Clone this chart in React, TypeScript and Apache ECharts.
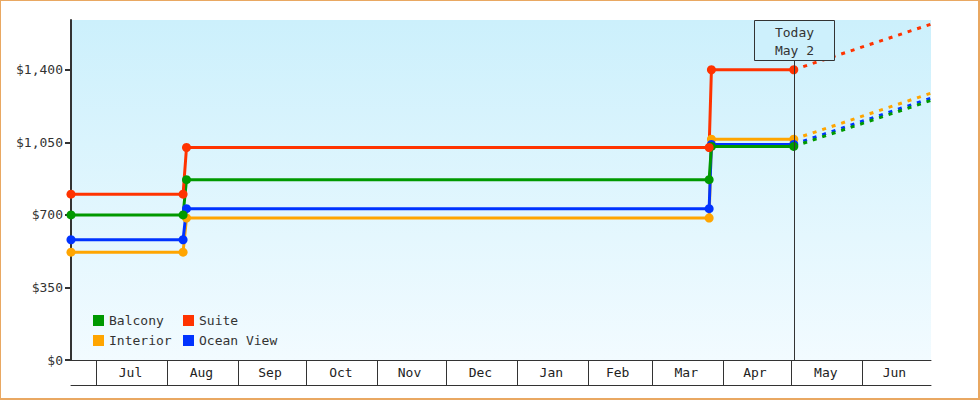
import React, { useEffect, useRef } from 'react';
import * as echarts from 'echarts';

const FONT = '"DejaVu Sans Mono", monospace';

// dates where the fares change (old value / new value) up to today
const stepDates = [
  '2024-06-20',
  '2024-08-08',
  '2024-08-09T12:00',
  '2025-03-26',
  '2025-03-27',
  '2025-05-02',
];
const balcony = [700, 700, 870, 870, 1030, 1030];
const suite = [800, 800, 1025, 1025, 1400, 1400];
const interior = [520, 520, 685, 685, 1065, 1065];
const oceanView = [580, 580, 730, 730, 1040, 1040];

// projection from today to the end of the range
const todayDate = '2025-05-02';
const endDate = '2025-07-01';
const balconyEnd = 1252;
const suiteEnd = 1620;
const interiorEnd = 1287;
const oceanViewEnd = 1263;

const yTicks = [0, 350, 700, 1050, 1400];
const monthStarts = [
  '2024-07-01', '2024-08-01', '2024-09-01', '2024-10-01', '2024-11-01', '2024-12-01',
  '2025-01-01', '2025-02-01', '2025-03-01', '2025-04-01', '2025-05-01', '2025-06-01',
];
const monthMids = [
  '2024-07-16', '2024-08-16', '2024-09-15', '2024-10-16', '2024-11-15', '2024-12-16',
  '2025-01-16', '2025-02-14', '2025-03-16', '2025-04-15', '2025-05-16', '2025-06-15',
];
const monthLabels = ['Jul', 'Aug', 'Sep', 'Oct', 'Nov', 'Dec', 'Jan', 'Feb', 'Mar', 'Apr', 'May', 'Jun'];

const colors = {
  Balcony: '#009900',
  Suite: '#ff3300',
  Interior: '#ffa500',
  'Ocean View': '#0033ff',
};

const ts = (d: string) => echarts.time.parse(d).getTime();

const App: React.FC = () => {
  const chartRef = useRef<HTMLDivElement>(null);

  useEffect(() => {
    if (!chartRef.current) return;
    document.body.style.margin = '0';

    const chart = echarts.init(chartRef.current, null, { renderer: 'svg' });

    const mids = monthMids.map(ts);
    const stepSeries = (name: keyof typeof colors, values: number[], extra: object = {}) => ({
      name,
      type: 'line',
      data: stepDates.map((d, i) => [ts(d), values[i]]),
      symbol: 'circle',
      symbolSize: 9,
      color: colors[name],
      lineStyle: { width: 3, color: colors[name] },
      emphasis: { disabled: true },
      ...extra,
    });
    const projSeries = (name: keyof typeof colors, start: number, end: number) => ({
      name: name + ' projection',
      type: 'line',
      data: [[ts(todayDate), start], [ts(endDate), end]],
      symbol: 'none',
      color: colors[name],
      lineStyle: { width: 3, type: [4, 6], color: colors[name] },
      emphasis: { disabled: true },
    });

    const legendBase = {
      orient: 'vertical',
      top: 314,
      padding: 0,
      icon: 'rect',
      itemWidth: 11,
      itemHeight: 11,
      itemGap: 7,
      textStyle: { fontFamily: FONT, fontSize: 13, color: '#333' },
      selectedMode: false,
    };

    const xMin = ts(stepDates[0]);
    const xMax = ts(endDate);

    const options: echarts.EChartsOption = {
      animation: false,
      backgroundColor: '#fff',
      grid: {
        left: 71,
        right: 49,
        top: 20,
        bottom: 40,
        show: true,
        borderWidth: 0,
        backgroundColor: new echarts.graphic.LinearGradient(0, 0, 0, 1, [
          { offset: 0, color: '#ccf0fc' },
          { offset: 1, color: '#f2fbff' },
        ]),
      },
      legend: [
        { ...legendBase, left: 93, data: ['Balcony', 'Interior'] },
        { ...legendBase, left: 183, data: ['Suite', 'Ocean View'] },
      ] as any,
      xAxis: [
        {
          type: 'value',
          min: xMin,
          max: xMax,
          axisLine: { lineStyle: { color: '#333', width: 1 } },
          axisTick: {
            customValues: monthStarts.map(ts),
            length: 25,
            lineStyle: { color: '#333', width: 1 },
          },
          axisLabel: {
            customValues: mids,
            margin: 6,
            fontFamily: FONT,
            fontSize: 13,
            color: '#222',
            formatter: (v: number) => {
              const i = mids.indexOf(v);
              return i >= 0 ? monthLabels[i] : '';
            },
          },
          splitLine: { show: false },
        } as any,
        {
          type: 'value',
          position: 'bottom',
          offset: 25,
          min: xMin,
          max: xMax,
          axisLine: { show: true, lineStyle: { color: '#333', width: 1 } },
          axisTick: { show: false },
          axisLabel: { show: false },
          splitLine: { show: false },
        },
      ],
      yAxis: {
        type: 'value',
        min: 0,
        max: 1640,
        axisLine: { show: true, lineStyle: { color: '#333', width: 2 } },
        axisTick: {
          show: true,
          customValues: yTicks,
          length: 6,
          lineStyle: { color: '#333', width: 2 },
        },
        axisLabel: {
          customValues: yTicks,
          margin: 8,
          fontFamily: FONT,
          fontSize: 13,
          color: '#333',
          formatter: (v: number) => '$' + v.toLocaleString('en-US'),
        },
        splitLine: { show: false },
      } as any,
      series: [
        stepSeries('Interior', interior, {
          markLine: {
            silent: true,
            symbol: ['none', 'none'],
            label: { show: false },
            lineStyle: { color: '#333', width: 1, type: 'solid' },
            data: [{ xAxis: ts(todayDate) }],
          },
        }),
        stepSeries('Ocean View', oceanView),
        stepSeries('Balcony', balcony),
        stepSeries('Suite', suite),
        projSeries('Interior', interior[interior.length - 1], interiorEnd),
        projSeries('Ocean View', oceanView[oceanView.length - 1], oceanViewEnd),
        projSeries('Balcony', balcony[balcony.length - 1], balconyEnd),
        projSeries('Suite', suite[suite.length - 1], suiteEnd),
      ] as any,
    };

    chart.setOption(options);

    // "Today" box above the marker line
    const tx = chart.convertToPixel({ xAxisIndex: 0 }, ts(todayDate)) as number;
    chart.setOption({
      graphic: [
        {
          type: 'rect',
          shape: { x: Math.round(tx) - 39.5, y: 20.5, width: 80, height: 40 },
          style: { fill: '#cdf0fc', stroke: '#333', lineWidth: 1 },
          z: 10,
        },
        {
          type: 'text',
          x: Math.round(tx) + 0.5,
          y: 41,
          style: {
            text: 'Today\nMay 2',
            fontFamily: FONT,
            fontSize: 13,
            lineHeight: 18,
            align: 'center',
            verticalAlign: 'middle',
            fill: '#333',
          },
          z: 11,
        },
      ],
    });

    return () => {
      chart.dispose();
    };
  }, []);

  return (
    <div style={{ position: 'absolute', left: 0, top: 0, width: 980, height: 400 }}>
      <div ref={chartRef} style={{ width: 980, height: 400 }} />
      <div
        style={{
          position: 'absolute',
          left: 0,
          top: 0,
          width: 980,
          height: 400,
          boxSizing: 'border-box',
          borderStyle: 'solid',
          borderColor: '#e9a862',
          borderWidth: '1px 2px 2px 1px',
          pointerEvents: 'none',
        }}
      />
    </div>
  );
};

export default App;
